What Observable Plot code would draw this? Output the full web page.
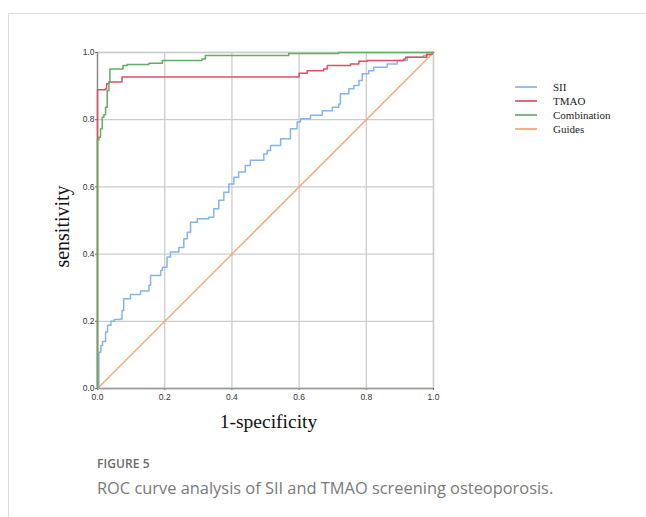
<!DOCTYPE html>
<html>
<head>
<meta charset="utf-8">
<script src="https://cdn.jsdelivr.net/npm/d3@7"></script>
<script src="https://cdn.jsdelivr.net/npm/@observablehq/plot@0.6"></script>
<style>
  html, body { margin: 0; padding: 0; background: #fff; }
  #wrap { position: relative; width: 646px; height: 517px; overflow: hidden; }
  #card { position: absolute; left: 8px; top: 13px; width: 700px; height: 600px; border-top: 1px solid #dcdcdc; border-left: 1px solid #dcdcdc; }
  #chart { position: absolute; left: 0; top: 0; }
  #legend { position: absolute; left: 515px; top: 80px; font-family: "Liberation Serif", "Times New Roman", serif; font-size: 11px; color: #222; }
  .item { display: flex; align-items: center; height: 14px; }
  .sw { display: inline-block; width: 22px; height: 2px; margin-right: 16px; opacity: 0.85; }
  #fig { position: absolute; left: 97px; top: 455px; font-family: "Open Sans", sans-serif; font-size: 12px; font-weight: 600; color: #6a6a6a; letter-spacing: 0.1px; }
  #cap { position: absolute; left: 97px; top: 476px; font-family: "Open Sans", sans-serif; font-size: 16.4px; color: #7a7a7a; white-space: nowrap; }
</style>
</head>
<body>
<div id="wrap">
  <div id="card"></div>
  <div id="chart"></div>
  <div id="legend"></div>
  <div id="fig">FIGURE 5</div>
  <div id="cap">ROC curve analysis of SII and TMAO screening osteoporosis.</div>
</div>
<script>
// ---- data ----
const seriesNames = ["SII", "TMAO", "Combination", "Guides"];
const seriesColors = ["#84b5ea", "#e24d66", "#62ad62", "#f5a46f"];
const ticks = [0, 0.2, 0.4, 0.6, 0.8, 1.0];

const siiFpr = [0, 0.004, 0.004, 0.010, 0.015, 0.024, 0.030, 0.040, 0.050, 0.068, 0.073, 0.078, 0.098, 0.128, 0.153, 0.158, 0.188, 0.193, 0.207, 0.217, 0.242, 0.257, 0.267, 0.277, 0.297, 0.331, 0.346, 0.361, 0.376, 0.391, 0.406, 0.420, 0.440, 0.455, 0.495, 0.505, 0.515, 0.545, 0.574, 0.594, 0.604, 0.634, 0.669, 0.699, 0.718, 0.723, 0.748, 0.763, 0.778, 0.788, 0.807, 0.822, 0.862, 0.892, 0.922, 0.970, 0.980, 1.0];
const siiTpr = [0, 0.000, 0.108, 0.128, 0.140, 0.168, 0.188, 0.200, 0.205, 0.207, 0.232, 0.267, 0.280, 0.290, 0.307, 0.336, 0.351, 0.361, 0.391, 0.406, 0.420, 0.446, 0.465, 0.495, 0.505, 0.510, 0.535, 0.560, 0.584, 0.609, 0.629, 0.644, 0.664, 0.679, 0.698, 0.708, 0.723, 0.743, 0.773, 0.793, 0.803, 0.813, 0.827, 0.837, 0.847, 0.877, 0.892, 0.902, 0.917, 0.937, 0.946, 0.956, 0.966, 0.976, 0.986, 0.991, 1.0, 1.0];

const tmaoFpr = [0, 0, 0.024, 0.027, 0.034, 0.068, 0.073, 0.600, 0.624, 0.673, 0.684, 0.753, 0.778, 0.803, 0.912, 0.917, 0.976, 0.980, 0.996, 1.0];
const tmaoTpr = [0, 0.889, 0.892, 0.907, 0.912, 0.912, 0.927, 0.938, 0.946, 0.951, 0.961, 0.966, 0.974, 0.976, 0.981, 0.986, 0.986, 0.994, 1.0, 1.0];

const combFpr = [0, 0, 0.004, 0.009, 0.014, 0.019, 0.024, 0.029, 0.034, 0.037, 0.073, 0.076, 0.088, 0.153, 0.193, 0.311, 0.321, 0.569, 0.718, 1.0];
const combTpr = [0, 0.740, 0.748, 0.773, 0.807, 0.815, 0.837, 0.887, 0.912, 0.951, 0.951, 0.961, 0.964, 0.968, 0.976, 0.981, 0.991, 0.997, 1.0, 1.0];

const guideFpr = [0, 1];
const guideTpr = [0, 1];

// ---- build table ----
const rows = [];
const add = (name, xs, ys) => xs.forEach((x, i) => rows.push({series: name, fpr: x, tpr: ys[i], i}));
add("Guides", guideFpr, guideTpr);
add("SII", siiFpr, siiTpr);
add("TMAO", tmaoFpr, tmaoTpr);
add("Combination", combFpr, combTpr);

const W = 646, H = 440;
const serif = "'Liberation Serif', 'Times New Roman', serif";
const chart = Plot.plot({
  width: W,
  height: H,
  marginLeft: 97,
  marginRight: 213,
  marginTop: 52,
  marginBottom: 52,
  style: {fontFamily: "'Liberation Sans', Arial, sans-serif", fontSize: "8.5px", color: "#333", background: "transparent"},
  x: {domain: [0, 1], ticks, tickFormat: d3.format(".1f")},
  y: {domain: [0, 1], ticks, tickFormat: d3.format(".1f")},
  color: {domain: seriesNames, range: seriesColors},
  marks: [
    Plot.gridX(ticks, {stroke: "#cccccc", strokeOpacity: 1, strokeWidth: 1.3}),
    Plot.gridY(ticks, {stroke: "#cccccc", strokeOpacity: 1, strokeWidth: 1.3}),
    Plot.frame({stroke: "#cccccc", strokeWidth: 1.3}),
    Plot.axisX({ticks, tickFormat: d3.format(".1f"), tickSize: 2, tickPadding: 3, label: null, stroke: "#666"}),
    Plot.axisY({ticks, tickFormat: d3.format(".1f"), tickSize: 2, tickPadding: 1, label: null, stroke: "#666"}),
    Plot.ruleX([0], {stroke: "#8a8a8a", strokeWidth: 1.3}),
    Plot.ruleY([0], {stroke: "#9a9a9a", strokeWidth: 1.5}),
    Plot.line(rows.filter(d => d.series === "Guides"), {x: "fpr", y: "tpr", stroke: "series", strokeWidth: 1.3}),
    Plot.line(rows.filter(d => d.series === "SII"), {x: "fpr", y: "tpr", stroke: "series", strokeWidth: 1.5, curve: "step-after"}),
    Plot.line(rows.filter(d => d.series === "TMAO"), {x: "fpr", y: "tpr", stroke: "series", strokeWidth: 1.5, curve: "step-after"}),
    Plot.line(rows.filter(d => d.series === "Combination"), {x: "fpr", y: "tpr", stroke: "series", strokeWidth: 1.5, curve: "step-after"}),
    Plot.text(["1-specificity"], {frameAnchor: "bottom", dy: 39, dx: 3, textAnchor: "middle", fontFamily: serif, fontSize: 19.5, fill: "#111"}),
    Plot.text(["sensitivity"], {frameAnchor: "left", dx: -35, dy: 6, rotate: -90, textAnchor: "middle", fontFamily: serif, fontSize: 20, fill: "#111"})
  ]
});
document.getElementById("chart").appendChild(chart);

// ---- legend ----
const legend = document.getElementById("legend");
seriesNames.forEach((name, k) => {
  const item = document.createElement("div");
  item.className = "item";
  const sw = document.createElement("span");
  sw.className = "sw";
  sw.style.backgroundColor = seriesColors[k];
  const lab = document.createElement("span");
  lab.textContent = name;
  item.appendChild(sw);
  item.appendChild(lab);
  legend.appendChild(item);
});
</script>
</body>
</html>
